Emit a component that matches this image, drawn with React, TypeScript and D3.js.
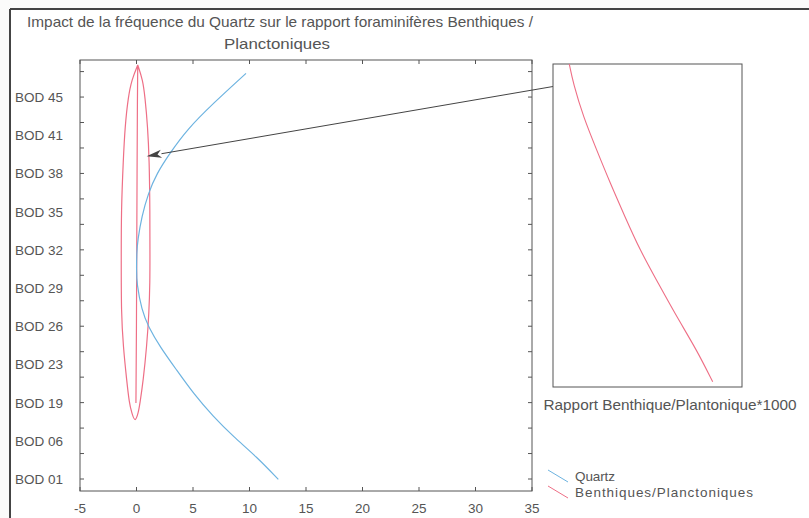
import React from "react";
import * as d3 from "d3";

const W = 809;
const H = 518;

const titleLines = [
  "Impact de la fréquence du Quartz sur le rapport foraminifères Benthiques /",
  "Planctoniques",
];
const depthLabels = ["BOD 01", "BOD 06", "BOD 19", "BOD 23", "BOD 26", "BOD 29", "BOD 32", "BOD 35", "BOD 38", "BOD 41", "BOD 45"];
const xTicks = [-5, 0, 5, 10, 15, 20, 25, 30, 35];

// Quartz: [depth index, value]
const quartzDepth = [10.62, 9.84, 9.14, 8.53, 8.0, 7.48, 6.87, 6.26, 5.92, 5.5, 5.12, 4.42, 3.99, 3.46, 2.85, 2.24, 1.63, 1.11, 0.58, -0.01];
const quartzValue = [9.69, 6.8, 4.44, 2.96, 1.79, 1.04, 0.46, 0.11, 0.02, 0.0, 0.02, 0.46, 1.04, 2.08, 3.56, 5.03, 6.8, 8.57, 10.64, 12.55];

// Benthiques/Planctoniques: inner line up, left side down, right side up
const bpDepth = [1.99, 1.99, 4.0, 6.0, 8.0, 10.0, 10.84, 10.84, 10.84, 10.45, 10.01, 9.22, 8.35, 7.04, 5.73, 4.35, 3.46, 2.59, 1.99, 1.73, 1.47, 1.73, 1.99, 2.59, 3.46, 4.35, 5.21, 5.73, 7.04, 8.35, 9.22, 10.01, 10.45, 10.84, 10.84];
const bpValue = [-0.05, -0.05, 0.0, 0.02, 0.05, 0.08, 0.11, 0.11, 0.11, -0.42, -0.73, -1.02, -1.17, -1.35, -1.35, -1.35, -1.17, -0.87, -0.64, -0.42, -0.13, 0.16, 0.31, 0.6, 0.9, 1.11, 1.19, 1.19, 1.19, 1.13, 0.99, 0.75, 0.55, 0.11, 0.11];

// Inset: ratio*1000 vs relative depth
const insetDepth = [0, 0.6, 1.63, 2.66, 3.68, 4.73, 5.76, 6.79, 7.82, 8.85, 9.84];
const insetRatio = [0.86, 1.07, 1.6, 2.31, 3.02, 3.81, 4.6, 5.57, 6.54, 7.6, 8.45];

const legendNames = ["Quartz", "Benthiques/Planctoniques"];
const insetLabel = "Rapport Benthique/Plantonique*1000";

const BLUE = "#6db3e0";
const RED = "#ee6f86";
const AXIS = "#555";
const TEXT = "#555";
const FONT = "'Liberation Sans', Arial, sans-serif";

export default function App() {
  const x = d3.scaleLinear().domain([-5, 35]).range([80, 532]);
  const y = d3.scaleLinear().domain([-0.314, 10.97]).range([491, 60]);
  const xi = d3.scaleLinear().domain([0, 10]).range([553, 742]);
  const yi = d3.scaleLinear().domain([0, 10]).range([64, 387]);

  const [x0, x1] = x.range();
  const [yb, yt] = y.range();

  const line = d3
    .line<[number, number]>()
    .x((d) => x(d[1]))
    .y((d) => y(d[0]))
    .curve(d3.curveBasis);
  const quartz = quartzDepth.map((d, i) => [d, quartzValue[i]] as [number, number]);
  const bp = bpDepth.map((d, i) => [d, bpValue[i]] as [number, number]);

  const insetLine = d3
    .line<[number, number]>()
    .x((d) => xi(d[1]))
    .y((d) => yi(d[0]))
    .curve(d3.curveBasis);
  const inset = insetDepth.map((d, i) => [d, insetRatio[i]] as [number, number]);

  const yTicks = d3.range(0, 10.9, 2 / 3);

  // arrow from inset to red curve
  const ax0 = xi(0);
  const ay0 = 86.5;
  const ax1 = x(0.9);
  const ay1 = y(8.45);
  const ang = Math.atan2(ay1 - ay0, ax1 - ax0);
  const hl = 15;
  const hw = 4;
  const bx = ax1 - hl * Math.cos(ang);
  const by = ay1 - hl * Math.sin(ang);
  const px = -Math.sin(ang);
  const py = Math.cos(ang);
  const head = `M${ax1},${ay1}L${bx + hw * px},${by + hw * py}L${bx + 4 * Math.cos(ang)},${by + 4 * Math.sin(ang)}L${bx - hw * px},${by - hw * py}Z`;

  return (
    <svg width={W} height={H} style={{ position: "absolute", left: 0, top: 0, background: "#fbfbfa" }} fontFamily={FONT}>
      <rect x={10} y={9} width={W} height={H} fill="#fff" />
      <line x1={10} y1={9} x2={W} y2={9} stroke="#444" strokeWidth={2} />
      <line x1={10} y1={9} x2={10} y2={H} stroke="#444" strokeWidth={2} />

      <text x={280} y={27} textAnchor="middle" fontSize={14.5} fill={TEXT} textLength={506} lengthAdjust="spacingAndGlyphs">
        {titleLines[0]}
      </text>
      <text x={277} y={49} textAnchor="middle" fontSize={14.5} fill={TEXT} textLength={106} lengthAdjust="spacingAndGlyphs">
        {titleLines[1]}
      </text>

      {/* main plot frame */}
      <rect x={x0} y={yt} width={x1 - x0} height={yb - yt} fill="none" stroke={AXIS} strokeWidth={1} />
      {xTicks.map((t) => (
        <g key={t}>
          <line x1={x(t)} x2={x(t)} y1={yb} y2={yb - 4} stroke={AXIS} />
          <line x1={x(t)} x2={x(t)} y1={yt} y2={yt + 4} stroke={AXIS} />
          <text x={x(t)} y={513} textAnchor="middle" fontSize={13.5} fill={TEXT}>
            {t}
          </text>
        </g>
      ))}
      {yTicks.map((t, i) => (
        <g key={i}>
          <line x1={x0} x2={x0 + 4} y1={y(t)} y2={y(t)} stroke={AXIS} />
          <line x1={x1} x2={x1 - 4} y1={y(t)} y2={y(t)} stroke={AXIS} />
        </g>
      ))}
      {depthLabels.map((l, i) => (
        <text key={l} x={63} y={y(i) + 5} textAnchor="end" fontSize={13.5} fill={TEXT}>
          {l}
        </text>
      ))}

      <path d={line(bp) || ""} fill="none" stroke={RED} strokeWidth={1.2} />
      <path d={line(quartz) || ""} fill="none" stroke={BLUE} strokeWidth={1.2} />

      {/* arrow */}
      <line x1={ax0} y1={ay0} x2={bx} y2={by} stroke="#444" strokeWidth={1} />
      <path d={head} fill="#444" />

      {/* inset */}
      <defs>
        <clipPath id="insetClip">
          <rect x={xi(0)} y={yi(0)} width={xi(10) - xi(0)} height={yi(10) - yi(0)} />
        </clipPath>
      </defs>
      <rect x={xi(0)} y={yi(0)} width={xi(10) - xi(0)} height={yi(10) - yi(0)} fill="#fff" stroke={AXIS} strokeWidth={1} />
      <path d={insetLine(inset) || ""} fill="none" stroke={RED} strokeWidth={1.1} clipPath="url(#insetClip)" />
      <text x={670} y={410} textAnchor="middle" fontSize={14.5} fill={TEXT} textLength={253} lengthAdjust="spacingAndGlyphs">
        {insetLabel}
      </text>

      {/* legend */}
      {legendNames.map((n, i) => (
        <g key={n}>
          <line x1={548} y1={470 + i * 16} x2={568} y2={482 + i * 16} stroke={i === 0 ? BLUE : RED} strokeWidth={1} />
          <text x={575} y={481 + i * 15.5} fontSize={13.5} fill={TEXT} textLength={i === 0 ? 40 : 178} lengthAdjust="spacing">
            {n}
          </text>
        </g>
      ))}
    </svg>
  );
}
